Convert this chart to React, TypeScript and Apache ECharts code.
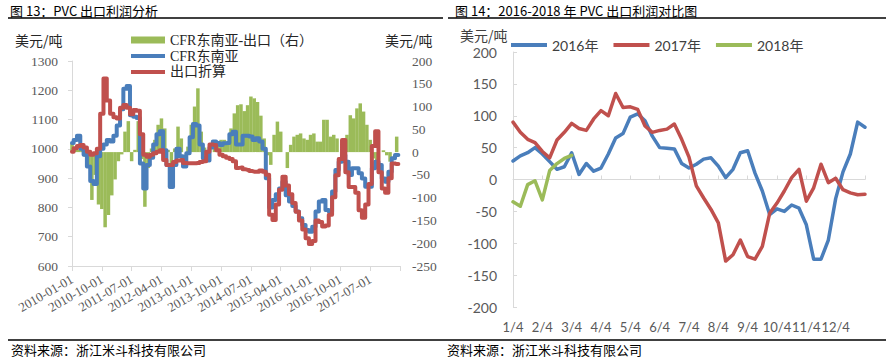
import React, { useEffect, useRef } from 'react';
import * as echarts from 'echarts';

// ---------- Left chart: 图13 PVC 出口利润分析 (monthly) ----------
const leftCategories = [
  '2010-01-01','2010-02-01','2010-03-01','2010-04-01','2010-05-01','2010-06-01','2010-07-01','2010-08-01','2010-09-01','2010-10-01','2010-11-01','2010-12-01',
  '2011-01-01','2011-02-01','2011-03-01','2011-04-01','2011-05-01','2011-06-01','2011-07-01','2011-08-01','2011-09-01','2011-10-01','2011-11-01','2011-12-01',
  '2012-01-01','2012-02-01','2012-03-01','2012-04-01','2012-05-01','2012-06-01','2012-07-01','2012-08-01','2012-09-01','2012-10-01','2012-11-01','2012-12-01',
  '2013-01-01','2013-02-01','2013-03-01','2013-04-01','2013-05-01','2013-06-01','2013-07-01','2013-08-01','2013-09-01','2013-10-01','2013-11-01','2013-12-01',
  '2014-01-01','2014-02-01','2014-03-01','2014-04-01','2014-05-01','2014-06-01','2014-07-01','2014-08-01','2014-09-01','2014-10-01','2014-11-01','2014-12-01',
  '2015-01-01','2015-02-01','2015-03-01','2015-04-01','2015-05-01','2015-06-01','2015-07-01','2015-08-01','2015-09-01','2015-10-01','2015-11-01','2015-12-01',
  '2016-01-01','2016-02-01','2016-03-01','2016-04-01','2016-05-01','2016-06-01','2016-07-01','2016-08-01','2016-09-01','2016-10-01','2016-11-01','2016-12-01',
  '2017-01-01','2017-02-01','2017-03-01','2017-04-01','2017-05-01','2017-06-01','2017-07-01','2017-08-01','2017-09-01','2017-10-01','2017-11-01','2017-12-01',
  '2018-01-01','2018-02-01','2018-03-01','2018-04-01',
];

const cfrSeaAsia = [
  1020,1030,1045,1000,980,940,890,880,975,1000,
  1015,1030,1025,1045,1080,1135,1205,1215,1115,1110,
  1105,950,865,945,970,1015,1050,1060,995,945,
  870,945,1000,975,940,985,1040,1085,1080,1015,
  968,960,1005,1025,1020,1013,1019,1020,1050,1058,
  1015,1015,1045,1045,1042,1030,1036,1025,1000,900,
  800,825,845,865,888,842,820,805,786,763,
  740,723,717,734,786,820,825,791,786,854,
  928,956,979,956,911,934,934,917,899,871,
  871,934,956,945,899,888,922,968,979,null,
];

const exportConverted = [
  990,1002,1010,1013,1005,990,980,985,1000,1120,
  1240,1165,1120,1108,1104,1140,1150,1140,1118,1133,
  1130,1050,980,973,980,985,990,995,962,945,
  945,955,960,962,952,951,951,951,952,955,
  958,990,1015,1013,995,980,975,970,965,958,
  935,936,930,928,924,922,922,926,922,912,
  775,757,810,860,905,875,845,815,785,755,
  725,695,675,685,755,750,735,738,775,835,
  910,965,1030,920,870,870,850,790,765,810,
  880,1010,1060,920,865,850,900,950,948,null,
];

const spreadRight = [
  20,10,5,8,-10,-28,-105,-50,-115,-125,
  -165,-138,-95,-60,-20,-5,45,68,-20,5,
  68,-15,-120,-35,8,27,60,74,52,5,
  -30,8,56,30,0,12,60,100,140,45,
  10,-7,0,16,20,27,27,19,52,85,
  103,105,90,103,122,118,110,80,30,-7,
  -28,38,67,45,0,-35,16,34,38,41,
  30,27,38,41,23,23,71,71,34,38,
  30,0,0,38,81,74,96,107,89,60,
  27,-14,-28,0,4,-7,-21,0,34,null,
];

// ---------- Right chart: 图14 2016-2018 年 PVC 出口利润对比图 (weekly) ----------
const dayCategories = [
  '1/4','1/11','1/18','1/25','2/4','2/11','2/18','2/25','3/4','3/11','3/18','3/25',
  '4/4','4/11','4/18','4/25','5/4','5/11','5/18','5/25','6/4','6/11','6/18','6/25',
  '7/4','7/11','7/18','7/25','8/4','8/11','8/18','8/25','9/4','9/11','9/18','9/25',
  '10/4','10/11','10/18','10/25','11/4','11/11','11/18','11/25','12/4','12/11','12/18','12/25','12/31',
];

const profit2016 = [
  29,37,42,50,40,28,16,20,42,8,
  25,13,18,40,65,72,98,103,92,68,
  50,49,48,25,18,24,32,34,21,3,
  16,42,45,10,-18,-55,-46,-50,-40,-45,
  -71,-125,-125,-95,-30,12,40,90,82,
];

const profit2017 = [
  90,74,63,58,44,34,62,74,88,80,
  77,95,108,100,135,113,114,110,84,74,
  77,79,87,63,35,-10,-29,-47,-68,-128,
  -118,-95,-121,-125,-105,-53,-37,-18,3,16,
  -34,-13,24,-5,2,-16,-21,-24,-23,
];

const profit2018 = [
  -35,-42,-8,-2,-32,14,25,33,38,
];

const leftYTicks = { min: 600, max: 1300, interval: 100 };
const rightYTicks = { min: -250, max: 200, interval: 50 };
const profitTicks = { min: -200, max: 200, interval: 50 };

const BLUE = '#4A7EBB';
const RED = '#C0504D';
const GREEN = '#9BBB59';
const SERIF = "'Liberation Serif', 'Noto Sans CJK SC', serif";
const SANS = "Lato, 'Noto Sans CJK SC', sans-serif";
const CJK = "'Noto Sans CJK SC', sans-serif";
const AXIS_GRAY = '#d9d9d9';
const LABEL_GRAY = '#595959';

const plain = (v: number) => String(v);

function buildOption(): any {
  const text = (x: number, y: number, t: string, size: number, family: string, fill = '#000', align = 'left') => ({
    type: 'text',
    x,
    y,
    silent: true,
    style: { text: t, fontSize: size, fontFamily: family, fill, align, verticalAlign: 'middle' },
  });
  const rule = (x1: number, y: number, x2: number) => ({
    type: 'line',
    silent: true,
    shape: { x1, y1: y, x2, y2: y },
    style: { stroke: '#000', lineWidth: 1.5 },
  });

  return {
    animation: false,
    backgroundColor: '#fff',
    graphic: [
      text(10, 10, '图 13：PVC 出口利润分析', 13, CJK),
      text(455, 10, '图 14：2016-2018 年 PVC 出口利润对比图', 13, CJK),
      rule(8, 18, 443),
      rule(448, 18, 886),
      rule(8, 340, 443),
      rule(443, 340, 886),
      text(11, 349, '资料来源：浙江米斗科技有限公司', 13, CJK),
      text(447, 349, '资料来源：浙江米斗科技有限公司', 13, CJK),
      text(15, 40, '美元/吨', 14, CJK, '#262626'),
      text(385, 40, '美元/吨', 14, CJK, '#262626'),
      text(460, 35, '美元/吨', 14, CJK, '#404040'),
    ],
    legend: [
      {
        data: ['CFR东南亚-出口（右）'],
        left: 131, top: 33, padding: 0, itemWidth: 34, itemHeight: 7, icon: 'rect',
        selectedMode: false,
        textStyle: { fontFamily: SERIF, fontSize: 14, color: '#262626' },
      },
      {
        data: ['CFR东南亚', '出口折算'],
        orient: 'vertical',
        left: 131, top: 49, padding: 0, itemWidth: 34, itemHeight: 4, itemGap: 2, icon: 'rect',
        selectedMode: false,
        textStyle: { fontFamily: SERIF, fontSize: 14, color: '#262626' },
      },
      {
        data: ['2016年', '2017年', '2018年'],
        left: 511, top: 38, padding: 0, itemWidth: 36, itemHeight: 4, itemGap: 15, icon: 'rect',
        selectedMode: false,
        textStyle: { fontFamily: SANS, fontSize: 14, color: '#404040' },
      },
    ],
    grid: [
      { left: 72, top: 61, width: 328, height: 205 },
      { left: 513, top: 52, width: 352, height: 255 },
    ],
    xAxis: [
      {
        gridIndex: 0,
        type: 'category',
        data: leftCategories,
        boundaryGap: false,
        position: 'bottom',
        axisLine: { onZero: false, lineStyle: { color: AXIS_GRAY } },
        axisTick: { interval: 8, length: 5, lineStyle: { color: AXIS_GRAY } },
        axisLabel: {
          interval: (i: number) => i % 9 === 0 && i < 99,
          rotate: 30,
          margin: 12,
          hideOverlap: false,
          fontFamily: SERIF,
          fontSize: 13,
          color: LABEL_GRAY,
        },
        splitLine: { show: false },
      },
      {
        gridIndex: 1,
        type: 'category',
        data: dayCategories,
        boundaryGap: false,
        position: 'bottom',
        axisLine: { show: false, onZero: false },
        axisTick: { show: false },
        axisLabel: {
          interval: (i: number) => i % 4 === 0 && i < 48,
          margin: 13,
          hideOverlap: false,
          fontFamily: SANS,
          fontSize: 13,
          color: LABEL_GRAY,
        },
        splitLine: { show: false },
      },
      {
        gridIndex: 1,
        type: 'category',
        data: dayCategories,
        boundaryGap: false,
        position: 'bottom',
        axisLine: { show: true, onZero: true, lineStyle: { color: AXIS_GRAY } },
        axisTick: { show: true, inside: true, interval: 3, length: 4, lineStyle: { color: AXIS_GRAY } },
        axisLabel: { show: false },
        splitLine: { show: false },
      },
    ],
    yAxis: [
      {
        gridIndex: 0,
        type: 'value',
        position: 'left',
        ...leftYTicks,
        axisLine: { show: true, lineStyle: { color: AXIS_GRAY } },
        axisTick: { show: true, length: 4, lineStyle: { color: AXIS_GRAY } },
        axisLabel: { margin: 14, formatter: plain, fontFamily: SERIF, fontSize: 13.5, color: LABEL_GRAY },
        splitLine: { show: false },
      },
      {
        gridIndex: 0,
        type: 'value',
        position: 'right',
        ...rightYTicks,
        axisLine: { show: false },
        axisTick: { show: false },
        axisLabel: { margin: 12, formatter: plain, fontFamily: SERIF, fontSize: 13.5, color: LABEL_GRAY },
        splitLine: { show: false },
      },
      {
        gridIndex: 1,
        type: 'value',
        position: 'left',
        ...profitTicks,
        axisLine: { show: true, lineStyle: { color: AXIS_GRAY } },
        axisTick: { show: true, inside: true, length: 4, lineStyle: { color: AXIS_GRAY } },
        axisLabel: { margin: 16, formatter: plain, fontFamily: SANS, fontSize: 14, color: LABEL_GRAY },
        splitLine: { show: false },
      },
    ],
    series: [
      {
        name: 'CFR东南亚-出口（右）',
        type: 'bar',
        xAxisIndex: 0,
        yAxisIndex: 1,
        data: spreadRight,
        barWidth: 3.5,
        itemStyle: { color: GREEN },
      },
      {
        name: 'CFR东南亚',
        type: 'line',
        xAxisIndex: 0,
        yAxisIndex: 0,
        data: cfrSeaAsia,
        step: 'middle',
        showSymbol: false,
        symbol: 'none',
        itemStyle: { color: BLUE },
        lineStyle: { color: BLUE, width: 4, join: 'round', cap: 'round' },
      },
      {
        name: '出口折算',
        type: 'line',
        xAxisIndex: 0,
        yAxisIndex: 0,
        data: exportConverted,
        step: 'middle',
        showSymbol: false,
        symbol: 'none',
        itemStyle: { color: RED },
        lineStyle: { color: RED, width: 4, join: 'round', cap: 'round' },
      },
      {
        name: '2016年',
        type: 'line',
        xAxisIndex: 1,
        yAxisIndex: 2,
        data: profit2016,
        showSymbol: false,
        symbol: 'none',
        itemStyle: { color: BLUE },
        lineStyle: { color: BLUE, width: 3.5, join: 'round', cap: 'round' },
      },
      {
        name: '2017年',
        type: 'line',
        xAxisIndex: 1,
        yAxisIndex: 2,
        data: profit2017,
        showSymbol: false,
        symbol: 'none',
        itemStyle: { color: RED },
        lineStyle: { color: RED, width: 3.5, join: 'round', cap: 'round' },
      },
      {
        name: '2018年',
        type: 'line',
        xAxisIndex: 1,
        yAxisIndex: 2,
        data: profit2018,
        showSymbol: false,
        symbol: 'none',
        itemStyle: { color: GREEN },
        lineStyle: { color: GREEN, width: 3.5, join: 'round', cap: 'round' },
      },
    ],
  };
}

export default function App() {
  const ref = useRef<HTMLDivElement>(null);
  useEffect(() => {
    if (!ref.current) return;
    const chart = echarts.init(ref.current, null, { renderer: 'svg', width: 886, height: 359 });
    chart.setOption(buildOption());
    return () => chart.dispose();
  }, []);
  return (
    <div
      ref={ref}
      style={{ position: 'absolute', left: 0, top: 0, width: 886, height: 359, background: '#fff' }}
    />
  );
}
